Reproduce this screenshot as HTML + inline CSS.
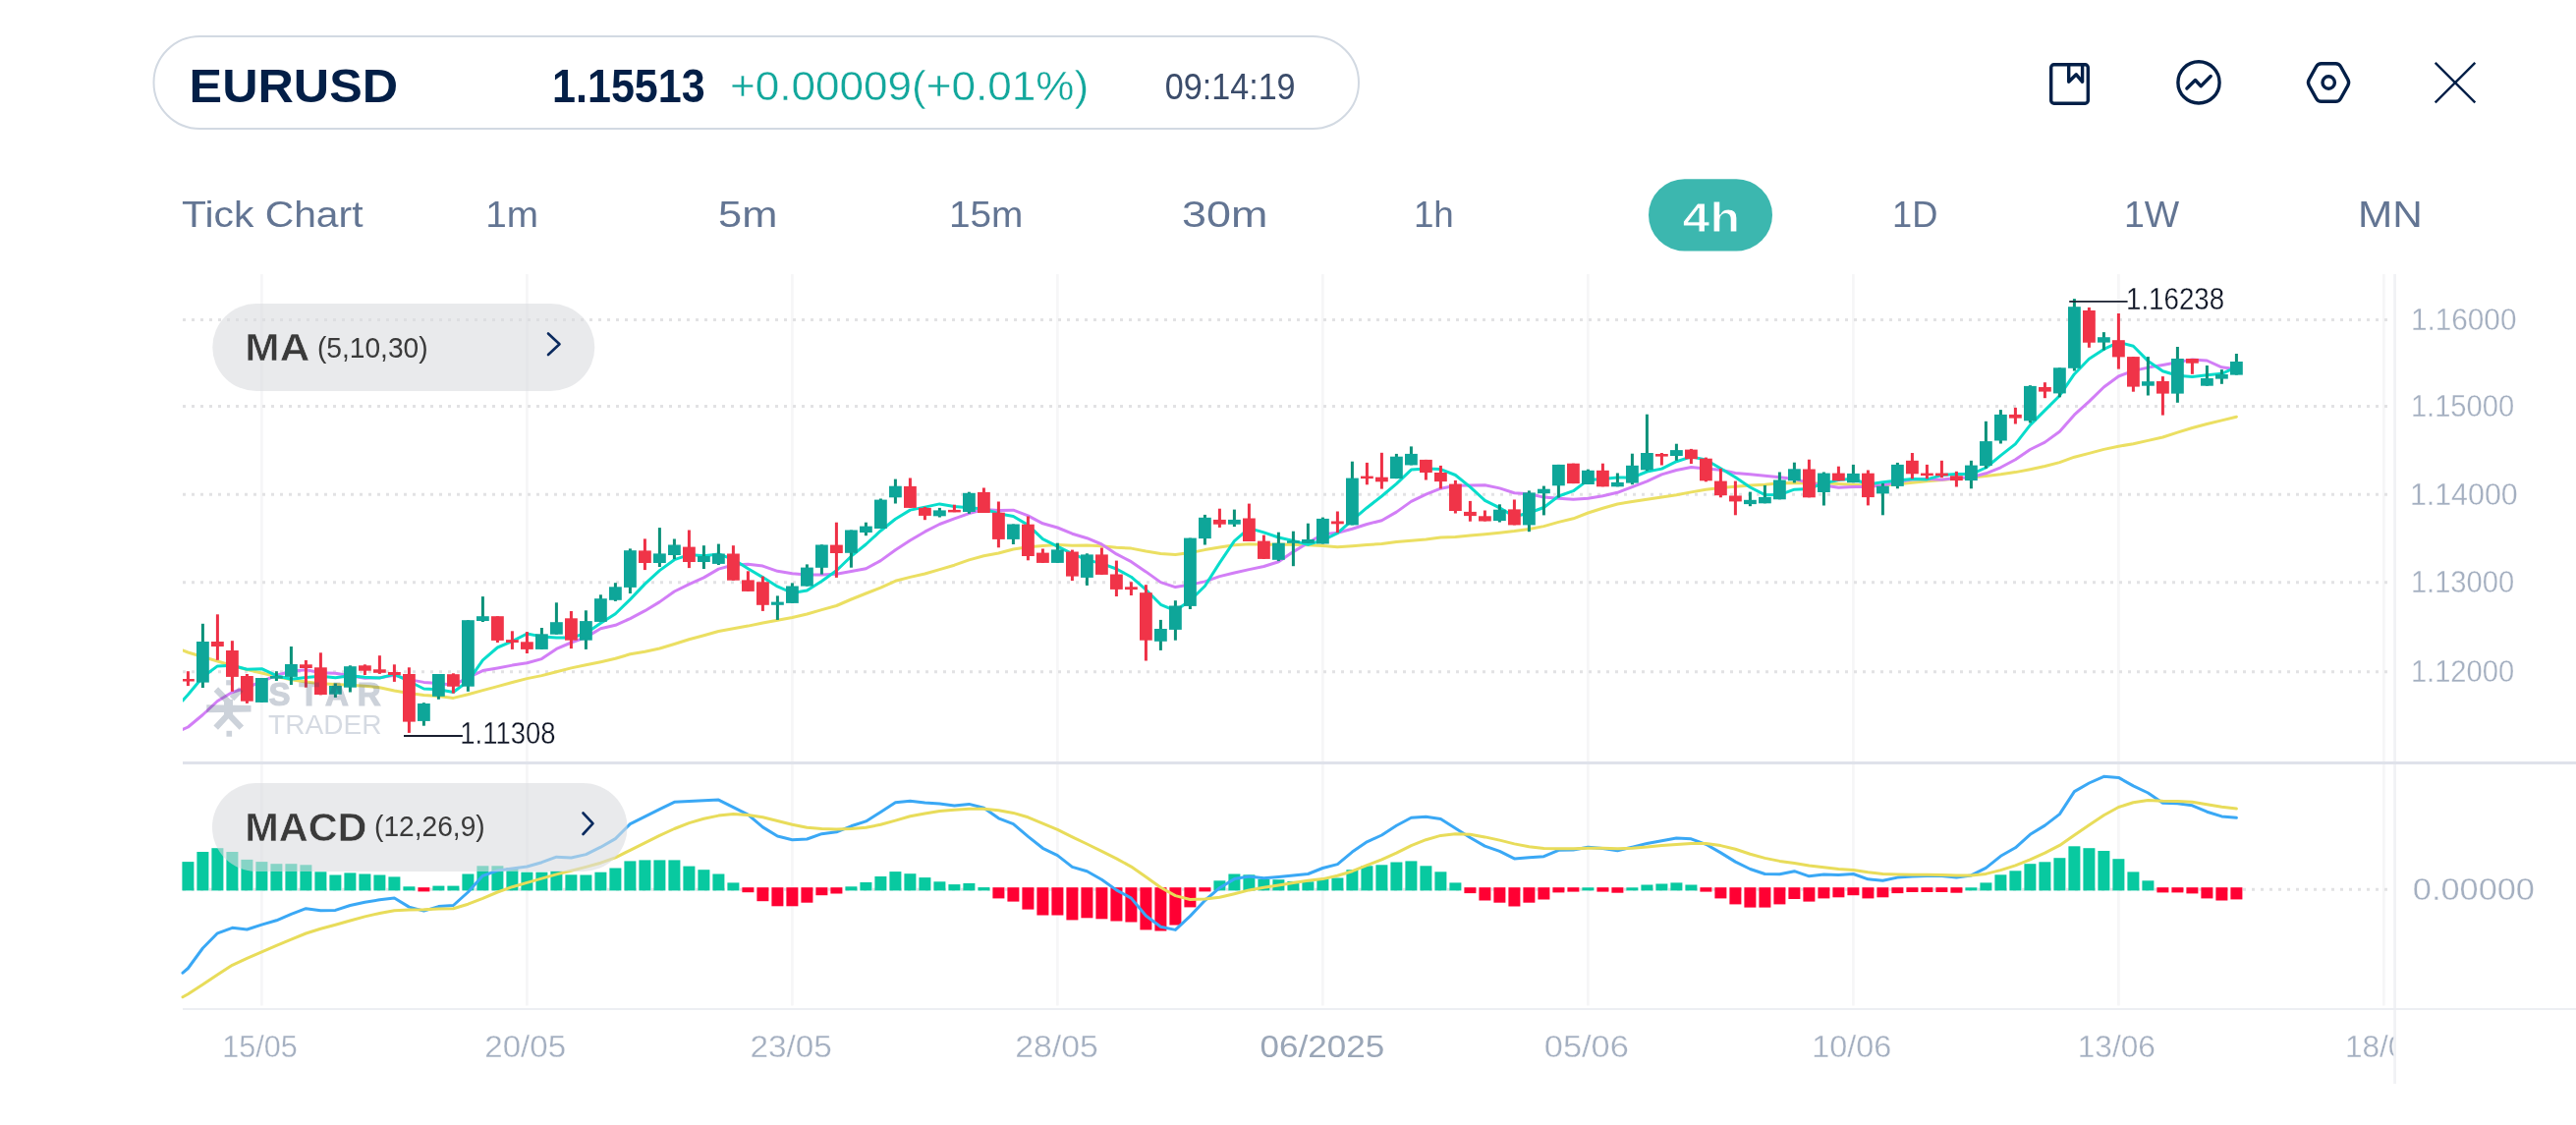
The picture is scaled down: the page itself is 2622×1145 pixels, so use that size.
<!DOCTYPE html><html><head><meta charset="utf-8"><style>html,body{margin:0;padding:0;background:#fff;width:2622px;height:1145px;overflow:hidden}svg{display:block;will-change:transform}text{font-family:"Liberation Sans",sans-serif}</style></head><body><svg width="2622" height="1145" viewBox="0 0 2622 1145"><rect x="156.5" y="37" width="1226.5" height="94" rx="47" ry="47" fill="#fff" stroke="#d2d9e2" stroke-width="2"/><g fill="none" stroke="#031f47" stroke-width="3.4" stroke-linecap="round" stroke-linejoin="round"><rect x="2087.7" y="65.7" width="37.6" height="39.6" rx="3"/><polyline points="2105.7,66.5 2105.7,83.3 2113.3,75.8 2119.6,83.3 2119.6,66.5"/><circle cx="2238" cy="83.9" r="21.1"/><polyline points="2225.9,90 2234.5,81.5 2240.1,87.7 2250.2,77.5"/><path d="M2350.30,87.06 Q2348.60,84.00 2350.30,80.94 L2357.60,67.76 Q2359.30,64.70 2362.80,64.70 L2377.30,64.70 Q2380.80,64.70 2382.50,67.76 L2389.80,80.94 Q2391.50,84.00 2389.80,87.06 L2382.50,100.24 Q2380.80,103.30 2377.30,103.30 L2362.80,103.30 Q2359.30,103.30 2357.60,100.24 Z"/><circle cx="2370.2" cy="84" r="6.2"/></g><g stroke="#031f47" stroke-width="2.4" stroke-linecap="butt"><line x1="2478.7" y1="63.8" x2="2519.3" y2="104.4"/><line x1="2519.3" y1="63.8" x2="2478.7" y2="104.4"/></g><rect x="1678" y="182.2" width="126" height="73.4" rx="36.7" fill="#3cb7af"/><rect x="265.1" y="279" width="2.6" height="744.5" fill="#f6f6f7"/><rect x="535.1" y="279" width="2.6" height="744.5" fill="#f6f6f7"/><rect x="805.1" y="279" width="2.6" height="744.5" fill="#f6f6f7"/><rect x="1075.1" y="279" width="2.6" height="744.5" fill="#f6f6f7"/><rect x="1345.1" y="279" width="2.6" height="744.5" fill="#f6f6f7"/><rect x="1615.1" y="279" width="2.6" height="744.5" fill="#f6f6f7"/><rect x="1885.1" y="279" width="2.6" height="744.5" fill="#f6f6f7"/><rect x="2155.1" y="279" width="2.6" height="744.5" fill="#f6f6f7"/><rect x="2425.1" y="279" width="2.6" height="744.5" fill="#f6f6f7"/><rect x="2436.2" y="279" width="2.8" height="824" fill="#f1f2f5"/><line x1="186" y1="325.5" x2="2431" y2="325.5" stroke="#e2e2e4" stroke-width="3" stroke-dasharray="3 6"/><line x1="186" y1="413.5" x2="2431" y2="413.5" stroke="#e2e2e4" stroke-width="3" stroke-dasharray="3 6"/><line x1="186" y1="503.3" x2="2431" y2="503.3" stroke="#e2e2e4" stroke-width="3" stroke-dasharray="3 6"/><line x1="186" y1="592.8" x2="2431" y2="592.8" stroke="#e2e2e4" stroke-width="3" stroke-dasharray="3 6"/><line x1="186" y1="683.8" x2="2431" y2="683.8" stroke="#e2e2e4" stroke-width="3" stroke-dasharray="3 6"/><line x1="186" y1="905.2" x2="2431" y2="905.2" stroke="#e2e2e4" stroke-width="3" stroke-dasharray="3 6"/><rect x="186" y="775" width="2436" height="3" fill="#dfe2ea"/><rect x="186" y="1026" width="2436" height="2" fill="#eceef2"/><rect x="185.4" y="877.1" width="12" height="29.3" fill="#08c9a0"/><rect x="200.4" y="867" width="12" height="39.4" fill="#08c9a0"/><rect x="215.4" y="863.2" width="12" height="43.2" fill="#08c9a0"/><rect x="230.4" y="867" width="12" height="39.4" fill="#08c9a0"/><rect x="245.4" y="874.9" width="12" height="31.5" fill="#08c9a0"/><rect x="260.4" y="877.1" width="12" height="29.3" fill="#08c9a0"/><rect x="275.4" y="879.2" width="12" height="27.2" fill="#08c9a0"/><rect x="290.4" y="879.2" width="12" height="27.2" fill="#08c9a0"/><rect x="305.4" y="880.3" width="12" height="26.1" fill="#08c9a0"/><rect x="320.4" y="887.3" width="12" height="19.1" fill="#08c9a0"/><rect x="335.4" y="890.5" width="12" height="15.9" fill="#08c9a0"/><rect x="350.4" y="888.4" width="12" height="18" fill="#08c9a0"/><rect x="365.4" y="889.5" width="12" height="16.9" fill="#08c9a0"/><rect x="380.4" y="890.5" width="12" height="15.9" fill="#08c9a0"/><rect x="395.4" y="892.4" width="12" height="14" fill="#08c9a0"/><rect x="410.4" y="902.3" width="12" height="4.1" fill="#08c9a0"/><rect x="425.4" y="903.2" width="12" height="4.2" fill="#ff0033"/><rect x="440.4" y="901.6" width="12" height="4.8" fill="#08c9a0"/><rect x="455.4" y="901.6" width="12" height="4.8" fill="#08c9a0"/><rect x="470.4" y="889.5" width="12" height="16.9" fill="#08c9a0"/><rect x="485.4" y="881.3" width="12" height="25.1" fill="#08c9a0"/><rect x="500.4" y="881.3" width="12" height="25.1" fill="#08c9a0"/><rect x="515.4" y="883.1" width="12" height="23.3" fill="#08c9a0"/><rect x="530.4" y="887.7" width="12" height="18.7" fill="#08c9a0"/><rect x="545.4" y="887.7" width="12" height="18.7" fill="#08c9a0"/><rect x="560.4" y="886.7" width="12" height="19.7" fill="#08c9a0"/><rect x="575.4" y="890.3" width="12" height="16.1" fill="#08c9a0"/><rect x="590.4" y="890.5" width="12" height="15.9" fill="#08c9a0"/><rect x="605.4" y="887.7" width="12" height="18.7" fill="#08c9a0"/><rect x="620.4" y="883.5" width="12" height="22.9" fill="#08c9a0"/><rect x="635.4" y="876.4" width="12" height="30" fill="#08c9a0"/><rect x="650.4" y="875.4" width="12" height="31" fill="#08c9a0"/><rect x="665.4" y="875.4" width="12" height="31" fill="#08c9a0"/><rect x="680.4" y="875.4" width="12" height="31" fill="#08c9a0"/><rect x="695.4" y="881.6" width="12" height="24.8" fill="#08c9a0"/><rect x="710.4" y="885.2" width="12" height="21.2" fill="#08c9a0"/><rect x="725.4" y="889.5" width="12" height="16.9" fill="#08c9a0"/><rect x="740.4" y="898.4" width="12" height="8" fill="#08c9a0"/><rect x="755.4" y="903.2" width="12" height="5" fill="#ff0033"/><rect x="770.4" y="903.2" width="12" height="14" fill="#ff0033"/><rect x="785.4" y="903.2" width="12" height="19.1" fill="#ff0033"/><rect x="800.4" y="903.2" width="12" height="19.1" fill="#ff0033"/><rect x="815.4" y="903.2" width="12" height="15.5" fill="#ff0033"/><rect x="830.4" y="903.2" width="12" height="8" fill="#ff0033"/><rect x="845.4" y="903.2" width="12" height="6.3" fill="#ff0033"/><rect x="860.4" y="902.3" width="12" height="4.1" fill="#08c9a0"/><rect x="875.4" y="898" width="12" height="8.4" fill="#08c9a0"/><rect x="890.4" y="892" width="12" height="14.4" fill="#08c9a0"/><rect x="905.4" y="887.1" width="12" height="19.3" fill="#08c9a0"/><rect x="920.4" y="889.2" width="12" height="17.2" fill="#08c9a0"/><rect x="935.4" y="893.1" width="12" height="13.3" fill="#08c9a0"/><rect x="950.4" y="897.3" width="12" height="9.1" fill="#08c9a0"/><rect x="965.4" y="900.1" width="12" height="6.3" fill="#08c9a0"/><rect x="980.4" y="899" width="12" height="7.4" fill="#08c9a0"/><rect x="995.4" y="903.1" width="12" height="3.3" fill="#08c9a0"/><rect x="1010.4" y="903.2" width="12" height="11.2" fill="#ff0033"/><rect x="1025.4" y="903.2" width="12" height="14.4" fill="#ff0033"/><rect x="1040.4" y="903.2" width="12" height="22.4" fill="#ff0033"/><rect x="1055.4" y="903.2" width="12" height="28.3" fill="#ff0033"/><rect x="1070.4" y="903.2" width="12" height="28.3" fill="#ff0033"/><rect x="1085.4" y="903.2" width="12" height="33.2" fill="#ff0033"/><rect x="1100.4" y="903.2" width="12" height="31.1" fill="#ff0033"/><rect x="1115.4" y="903.2" width="12" height="32.1" fill="#ff0033"/><rect x="1130.4" y="903.2" width="12" height="34.3" fill="#ff0033"/><rect x="1145.4" y="903.2" width="12" height="35.3" fill="#ff0033"/><rect x="1160.4" y="903.2" width="12" height="43.2" fill="#ff0033"/><rect x="1175.4" y="903.2" width="12" height="44.3" fill="#ff0033"/><rect x="1190.4" y="903.2" width="12" height="38.3" fill="#ff0033"/><rect x="1205.4" y="903.2" width="12" height="20.2" fill="#ff0033"/><rect x="1220.4" y="903.2" width="12" height="4.2" fill="#ff0033"/><rect x="1235.4" y="896.3" width="12" height="10.1" fill="#08c9a0"/><rect x="1250.4" y="889.5" width="12" height="16.9" fill="#08c9a0"/><rect x="1265.4" y="890.3" width="12" height="16.1" fill="#08c9a0"/><rect x="1280.4" y="894.8" width="12" height="11.6" fill="#08c9a0"/><rect x="1295.4" y="895.2" width="12" height="11.2" fill="#08c9a0"/><rect x="1310.4" y="896.9" width="12" height="9.5" fill="#08c9a0"/><rect x="1325.4" y="897.3" width="12" height="9.1" fill="#08c9a0"/><rect x="1340.4" y="894.3" width="12" height="12.1" fill="#08c9a0"/><rect x="1355.4" y="893.5" width="12" height="12.9" fill="#08c9a0"/><rect x="1370.4" y="885.2" width="12" height="21.2" fill="#08c9a0"/><rect x="1385.4" y="881.3" width="12" height="25.1" fill="#08c9a0"/><rect x="1400.4" y="880.3" width="12" height="26.1" fill="#08c9a0"/><rect x="1415.4" y="877.5" width="12" height="28.9" fill="#08c9a0"/><rect x="1430.4" y="876.4" width="12" height="30" fill="#08c9a0"/><rect x="1445.4" y="881.3" width="12" height="25.1" fill="#08c9a0"/><rect x="1460.4" y="887.3" width="12" height="19.1" fill="#08c9a0"/><rect x="1475.4" y="898.4" width="12" height="8" fill="#08c9a0"/><rect x="1490.4" y="903.2" width="12" height="5.9" fill="#ff0033"/><rect x="1505.4" y="903.2" width="12" height="13.3" fill="#ff0033"/><rect x="1520.4" y="903.2" width="12" height="15.5" fill="#ff0033"/><rect x="1535.4" y="903.2" width="12" height="19.3" fill="#ff0033"/><rect x="1550.4" y="903.2" width="12" height="15.5" fill="#ff0033"/><rect x="1565.4" y="903.2" width="12" height="12.3" fill="#ff0033"/><rect x="1580.4" y="903.2" width="12" height="5.2" fill="#ff0033"/><rect x="1595.4" y="903.2" width="12" height="4.4" fill="#ff0033"/><rect x="1610.4" y="903.3" width="12" height="3.1" fill="#08c9a0"/><rect x="1625.4" y="903.2" width="12" height="4.4" fill="#ff0033"/><rect x="1640.4" y="903.2" width="12" height="5.5" fill="#ff0033"/><rect x="1655.4" y="903.3" width="12" height="3.1" fill="#08c9a0"/><rect x="1670.4" y="900.5" width="12" height="5.9" fill="#08c9a0"/><rect x="1685.4" y="899.5" width="12" height="6.9" fill="#08c9a0"/><rect x="1700.4" y="898.4" width="12" height="8" fill="#08c9a0"/><rect x="1715.4" y="900.5" width="12" height="5.9" fill="#08c9a0"/><rect x="1730.4" y="903.2" width="12" height="4.4" fill="#ff0033"/><rect x="1745.4" y="903.2" width="12" height="11.2" fill="#ff0033"/><rect x="1760.4" y="903.2" width="12" height="17.2" fill="#ff0033"/><rect x="1775.4" y="903.2" width="12" height="20.4" fill="#ff0033"/><rect x="1790.4" y="903.2" width="12" height="20.4" fill="#ff0033"/><rect x="1805.4" y="903.2" width="12" height="17.2" fill="#ff0033"/><rect x="1820.4" y="903.2" width="12" height="11.8" fill="#ff0033"/><rect x="1835.4" y="903.2" width="12" height="14.4" fill="#ff0033"/><rect x="1850.4" y="903.2" width="12" height="11.2" fill="#ff0033"/><rect x="1865.4" y="903.2" width="12" height="10.1" fill="#ff0033"/><rect x="1880.4" y="903.2" width="12" height="8" fill="#ff0033"/><rect x="1895.4" y="903.2" width="12" height="11.2" fill="#ff0033"/><rect x="1910.4" y="903.2" width="12" height="10.1" fill="#ff0033"/><rect x="1925.4" y="903.2" width="12" height="5.9" fill="#ff0033"/><rect x="1940.4" y="903.2" width="12" height="4.8" fill="#ff0033"/><rect x="1955.4" y="903.2" width="12" height="4.8" fill="#ff0033"/><rect x="1970.4" y="903.2" width="12" height="4.8" fill="#ff0033"/><rect x="1985.4" y="903.2" width="12" height="5.5" fill="#ff0033"/><rect x="2000.4" y="903.3" width="12" height="3.1" fill="#08c9a0"/><rect x="2015.4" y="898.4" width="12" height="8" fill="#08c9a0"/><rect x="2030.4" y="890.3" width="12" height="16.1" fill="#08c9a0"/><rect x="2045.4" y="886.3" width="12" height="20.1" fill="#08c9a0"/><rect x="2060.4" y="879.2" width="12" height="27.2" fill="#08c9a0"/><rect x="2075.4" y="877.3" width="12" height="29.1" fill="#08c9a0"/><rect x="2090.4" y="873.2" width="12" height="33.2" fill="#08c9a0"/><rect x="2105.4" y="861.3" width="12" height="45.1" fill="#08c9a0"/><rect x="2120.4" y="863.2" width="12" height="43.2" fill="#08c9a0"/><rect x="2135.4" y="866" width="12" height="40.4" fill="#08c9a0"/><rect x="2150.4" y="874.2" width="12" height="32.2" fill="#08c9a0"/><rect x="2165.4" y="887.4" width="12" height="19" fill="#08c9a0"/><rect x="2180.4" y="896.3" width="12" height="10.1" fill="#08c9a0"/><rect x="2195.4" y="903.2" width="12" height="5.2" fill="#ff0033"/><rect x="2210.4" y="903.2" width="12" height="5.2" fill="#ff0033"/><rect x="2225.4" y="903.2" width="12" height="6.2" fill="#ff0033"/><rect x="2240.4" y="903.2" width="12" height="11.2" fill="#ff0033"/><rect x="2255.4" y="903.2" width="12" height="13.3" fill="#ff0033"/><rect x="2270.4" y="903.2" width="12" height="12.2" fill="#ff0033"/><polyline points="186,990.2 191.4,985.5 206.4,965 221.4,949.8 236.4,944.3 251.4,946 266.4,941.1 281.4,936.8 296.4,930.4 311.4,924.7 326.4,926.8 341.4,926.4 356.4,921.5 371.4,918.2 386.4,915.8 401.4,914 416.4,923.1 431.4,927.1 446.4,922.6 461.4,921.5 476.4,908 491.4,891.3 506.4,886 521.4,883.9 536.4,882 551.4,877.7 566.4,872.2 581.4,873 596.4,869.6 611.4,862.2 626.4,853.6 641.4,838.6 656.4,831.2 671.4,823.7 686.4,816.3 701.4,815.6 716.4,814.8 731.4,814.1 746.4,821.7 761.4,829.1 776.4,841.9 791.4,851 806.4,854.7 821.4,854 836.4,848.7 851.4,846.8 866.4,840.8 881.4,835.9 896.4,826.4 911.4,816.8 926.4,815.2 941.4,816.9 956.4,818 971.4,820.1 986.4,818.4 1001.4,822.2 1016.4,832.8 1031.4,838.7 1046.4,851.4 1061.4,863.3 1076.4,870.6 1091.4,882.4 1106.4,886.7 1121.4,895.2 1136.4,905.9 1151.4,914.1 1166.4,932 1181.4,943.2 1196.4,946.4 1211.4,932.4 1226.4,916.5 1241.4,903.7 1256.4,894.6 1271.4,892 1286.4,893.7 1301.4,892.4 1316.4,891 1331.4,889.5 1346.4,883.5 1361.4,879.6 1376.4,867.1 1391.4,856.8 1406.4,850 1421.4,840.3 1436.4,832.3 1451.4,831.2 1466.4,833.4 1481.4,842.9 1496.4,852.5 1511.4,861.1 1526.4,866.4 1541.4,873.9 1556.4,872.8 1571.4,871.7 1586.4,865.3 1601.4,864.9 1616.4,862.2 1631.4,863.6 1646.4,865.8 1661.4,862.1 1676.4,858.5 1691.4,855.7 1706.4,853 1721.4,853.8 1736.4,859.3 1751.4,867.9 1766.4,877.1 1781.4,884.5 1796.4,889.5 1811.4,889.7 1826.4,886.7 1841.4,891.8 1856.4,890.1 1871.4,890.5 1886.4,889.5 1901.4,894.8 1916.4,896.3 1931.4,893.1 1946.4,892 1961.4,891.4 1976.4,891.4 1991.4,893.1 2006.4,890.9 2021.4,883.4 2036.4,871.3 2051.4,862.8 2066.4,849.3 2081.4,840.1 2096.4,828.6 2111.4,805.6 2126.4,797 2141.4,790.3 2156.4,791.4 2171.4,799.9 2186.4,807 2201.4,817.3 2216.4,817.7 2231.4,819.8 2246.4,826.2 2261.4,830.9 2276.4,832.3" fill="none" stroke="#3aa8f5" stroke-width="3" stroke-linejoin="round" stroke-linecap="round"/><polyline points="186,1014.7 191.4,1011.7 206.4,1002.1 221.4,992 236.4,982.3 251.4,975.3 266.4,968.8 281.4,962.4 296.4,956.2 311.4,950 326.4,945.3 341.4,941.3 356.4,937 371.4,932.9 386.4,929.5 401.4,926.7 416.4,925.9 431.4,925.7 446.4,925.1 461.4,924.7 476.4,920.2 491.4,914.4 506.4,908 521.4,902.7 536.4,898.4 551.4,894.1 566.4,889.9 581.4,886.3 596.4,882.4 611.4,878.2 626.4,872.8 641.4,865.3 656.4,857.8 671.4,850.4 686.4,843.5 701.4,837.6 716.4,833.3 731.4,830.1 746.4,828.6 761.4,829.5 776.4,831.8 791.4,835.5 806.4,839.3 821.4,842.3 836.4,843.6 851.4,844 866.4,843.6 881.4,842.3 896.4,839.3 911.4,835.1 926.4,830.8 941.4,828 956.4,825.5 971.4,824.2 986.4,823.3 1001.4,823.3 1016.4,824.8 1031.4,827.4 1046.4,831.8 1061.4,838.1 1076.4,844.4 1091.4,851.9 1106.4,859 1121.4,866.4 1136.4,873.9 1151.4,882.1 1166.4,892.5 1181.4,903.3 1196.4,911.6 1211.4,915.5 1226.4,915.1 1241.4,913.3 1256.4,909.7 1271.4,905.9 1286.4,903.3 1301.4,901 1316.4,898.6 1331.4,896.3 1346.4,894.6 1361.4,891.3 1376.4,886.7 1391.4,880.7 1406.4,874.9 1421.4,868.1 1436.4,860.6 1451.4,854.7 1466.4,850.4 1481.4,848.7 1496.4,849.3 1511.4,851.9 1526.4,855.1 1541.4,858.9 1556.4,861.7 1571.4,863.6 1586.4,863.8 1601.4,863.8 1616.4,863.2 1631.4,863.2 1646.4,863.8 1661.4,863.2 1676.4,862.1 1691.4,860.6 1706.4,859.4 1721.4,858.5 1736.4,858.5 1751.4,860.6 1766.4,864.3 1781.4,869.2 1796.4,873.4 1811.4,876.4 1826.4,878.6 1841.4,880.9 1856.4,882.8 1871.4,884.5 1886.4,885.6 1901.4,887.7 1916.4,889.4 1931.4,889.9 1946.4,890.3 1961.4,890.3 1976.4,890.5 1991.4,890.9 2006.4,890.9 2021.4,889.4 2036.4,885.6 2051.4,880.9 2066.4,874.9 2081.4,868.1 2096.4,860.4 2111.4,850 2126.4,839.7 2141.4,829.8 2156.4,821.5 2171.4,816.7 2186.4,814.6 2201.4,815.3 2216.4,815.6 2231.4,816.3 2246.4,818.7 2261.4,821.2 2276.4,823.1" fill="none" stroke="#e8dc5a" stroke-width="3" stroke-linejoin="round" stroke-linecap="round"/><defs><clipPath id="pc"><rect x="186" y="279" width="2250" height="495"/></clipPath></defs><g clip-path="url(#pc)"><polyline points="186,662 191.4,664 206.4,668.5 221.4,673 236.4,677.5 251.4,681.5 266.4,685 281.4,688.5 296.4,691.8 311.4,694 326.4,695.8 341.4,696.4 356.4,697.2 371.4,698.3 386.4,699.8 401.4,703 416.4,705.6 431.4,707.4 446.4,708.5 461.4,710.4 476.4,706.8 491.4,702.6 506.4,698.6 521.4,694.5 536.4,690.6 551.4,687.6 566.4,683.7 581.4,679.9 596.4,676.8 611.4,673.7 626.4,670.3 641.4,665.8 656.4,663.2 671.4,660 686.4,655.5 701.4,650.8 716.4,646.7 731.4,642.5 746.4,639.7 761.4,637.1 776.4,634 791.4,631.2 806.4,628.5 821.4,625 836.4,620.6 851.4,616.5 866.4,610 881.4,604 896.4,598.1 911.4,591.3 926.4,587.4 941.4,584 956.4,579.6 971.4,575.2 986.4,569.9 1001.4,565.8 1016.4,563 1031.4,559 1046.4,556.8 1061.4,555.6 1076.4,554.4 1091.4,555.2 1106.4,554.9 1121.4,555.7 1136.4,557.2 1151.4,558.1 1166.4,561 1181.4,563.5 1196.4,564.4 1211.4,562.6 1226.4,559.6 1241.4,557 1256.4,554.7 1271.4,553.8 1286.4,554.3 1301.4,554 1316.4,554.3 1331.4,554.8 1346.4,555.4 1361.4,556.7 1376.4,555.7 1391.4,554.4 1406.4,553.5 1421.4,551.6 1436.4,550.2 1451.4,548.9 1466.4,546.9 1481.4,546.5 1496.4,545.1 1511.4,543.7 1526.4,542.3 1541.4,540.6 1556.4,538.5 1571.4,535.6 1586.4,531.4 1601.4,527.8 1616.4,522 1631.4,517.2 1646.4,513 1661.4,510.5 1676.4,508.3 1691.4,506 1706.4,503.7 1721.4,500.9 1736.4,498.2 1751.4,496.6 1766.4,495.3 1781.4,493.9 1796.4,493.2 1811.4,491.7 1826.4,491.4 1841.4,492 1856.4,491.8 1871.4,492.6 1886.4,493.2 1901.4,494.1 1916.4,494.2 1931.4,492.7 1946.4,491.2 1961.4,489.7 1976.4,488.5 1991.4,487 2006.4,486.1 2021.4,484.5 2036.4,482.8 2051.4,480.6 2066.4,477.7 2081.4,474.5 2096.4,470.6 2111.4,465.2 2126.4,461.4 2141.4,457.4 2156.4,454.2 2171.4,451.8 2186.4,448.4 2201.4,445 2216.4,440.1 2231.4,435.5 2246.4,431.5 2261.4,427.9 2276.4,424.2" fill="none" stroke="#ebdf62" stroke-width="3" stroke-linejoin="round" stroke-linecap="round"/><polyline points="186,742.5 191.4,740 206.4,727.5 221.4,713.5 236.4,704.5 251.4,699.9 266.4,693.5 281.4,687.3 296.4,683.3 311.4,681.8 326.4,684.8 341.4,685.3 356.4,687.8 371.4,690.2 386.4,689.8 401.4,687.2 416.4,691.6 431.4,694.4 446.4,695.4 461.4,697.3 476.4,689.7 491.4,682.6 506.4,680 521.4,677.1 536.4,674.8 551.4,670.6 566.4,660.4 581.4,654 596.4,648.6 611.4,639.7 626.4,636.3 641.4,629.6 656.4,621.7 671.4,612.6 686.4,602 701.4,594.7 716.4,587.9 731.4,579.1 746.4,575 761.4,574.2 776.4,576.1 791.4,581.3 806.4,583.7 821.4,585.1 836.4,585.1 851.4,584.2 866.4,581.6 881.4,578.8 896.4,570.6 911.4,559.8 926.4,550 941.4,541.2 956.4,533.5 971.4,527.8 986.4,522.6 1001.4,518.5 1016.4,519.4 1031.4,519.2 1046.4,524.9 1061.4,532.8 1076.4,537 1091.4,543.2 1106.4,547.7 1121.4,554 1136.4,563.9 1151.4,571.7 1166.4,581.9 1181.4,592.6 1196.4,597.6 1211.4,595.1 1226.4,591.9 1241.4,586.6 1256.4,583 1271.4,579.6 1286.4,576.5 1301.4,571.8 1316.4,561.6 1331.4,552.5 1346.4,543.7 1361.4,542.2 1376.4,538.2 1391.4,533.5 1406.4,529.7 1421.4,521.1 1436.4,510.4 1451.4,503.2 1466.4,497.2 1481.4,494.3 1496.4,494 1511.4,493.7 1526.4,496.9 1541.4,501.7 1556.4,502.8 1571.4,506.1 1586.4,507.2 1601.4,508.3 1616.4,507.2 1631.4,504.7 1646.4,501.3 1661.4,495.6 1676.4,489.8 1691.4,482.9 1706.4,478.5 1721.4,475.5 1736.4,477.1 1751.4,478.3 1766.4,481.5 1781.4,482.8 1796.4,484.3 1811.4,485.8 1826.4,487.4 1841.4,491.6 1856.4,493.9 1871.4,496.2 1886.4,495.4 1901.4,495.6 1916.4,494 1931.4,490.4 1946.4,488.1 1961.4,487.6 1976.4,488.3 1991.4,486.6 2006.4,485.8 2021.4,481.8 2036.4,475.8 2051.4,467.7 2066.4,457.5 2081.4,450.1 2096.4,439.3 2111.4,422.2 2126.4,408.6 2141.4,394 2156.4,383 2171.4,377.4 2186.4,374.1 2201.4,371.6 2216.4,368.8 2231.4,365.9 2246.4,367 2261.4,373.8 2276.4,375.8" fill="none" stroke="#d27ef6" stroke-width="3" stroke-linejoin="round" stroke-linecap="round"/><polyline points="186,713 191.4,707 206.4,689 221.4,677.9 236.4,677.2 251.4,681.3 266.4,680.7 281.4,687.7 296.4,691.3 311.4,689.5 326.4,688.2 341.4,689.8 356.4,687.8 371.4,689.2 386.4,690.1 401.4,686.1 416.4,693.5 431.4,701 446.4,701.7 461.4,704.5 476.4,693.3 491.4,671.8 506.4,659 521.4,652.6 536.4,645 551.4,647.9 566.4,649.1 581.4,649 596.4,644.6 611.4,634.3 626.4,624.7 641.4,610.1 656.4,594.4 671.4,580.6 686.4,569.7 701.4,564.6 716.4,565.8 731.4,563.9 746.4,569.3 761.4,578.8 776.4,587.6 791.4,596.9 806.4,603.5 821.4,600.9 836.4,591.4 851.4,580.8 866.4,566.2 881.4,554 896.4,540.2 911.4,528.3 926.4,519.1 941.4,516.1 956.4,512.9 971.4,515.4 986.4,516.8 1001.4,517.9 1016.4,522.7 1031.4,525.5 1046.4,534.4 1061.4,548.7 1076.4,556.1 1091.4,563.7 1106.4,569.9 1121.4,573.6 1136.4,579 1151.4,587.2 1166.4,600.2 1181.4,615.3 1196.4,621.6 1211.4,611.2 1226.4,596.5 1241.4,572.9 1256.4,550.7 1271.4,537.6 1286.4,541.9 1301.4,547 1316.4,550.4 1331.4,554.4 1346.4,549.8 1361.4,542.6 1376.4,529.4 1391.4,516.7 1406.4,505 1421.4,492.4 1436.4,478.1 1451.4,477 1466.4,477.6 1481.4,483.5 1496.4,495.6 1511.4,509.3 1526.4,516.9 1541.4,525.7 1556.4,522 1571.4,516.5 1586.4,505 1601.4,499.7 1616.4,488.6 1631.4,487.4 1646.4,486 1661.4,486.2 1676.4,480 1691.4,477.1 1706.4,469.7 1721.4,464.9 1736.4,468 1751.4,476.7 1766.4,485.8 1781.4,496 1796.4,503.7 1811.4,503.6 1826.4,498.2 1841.4,497.4 1856.4,491.9 1871.4,488.6 1886.4,487.3 1901.4,493 1916.4,490.7 1931.4,489 1946.4,487.6 1961.4,487.9 1976.4,483.6 1991.4,482.5 2006.4,482.6 2021.4,476 2036.4,463.6 2051.4,451.9 2066.4,432.6 2081.4,417.6 2096.4,402.7 2111.4,380.7 2126.4,365.3 2141.4,355.4 2156.4,348.4 2171.4,352.2 2186.4,367.4 2201.4,377.8 2216.4,382.2 2231.4,383.4 2246.4,381.7 2261.4,380.3 2276.4,373.7" fill="none" stroke="#08dccb" stroke-width="3" stroke-linejoin="round" stroke-linecap="round"/><rect x="189.9" y="683.2" width="3" height="14.9" fill="#ee2f45"/><rect x="185" y="691" width="12.8" height="2.5" fill="#f03448"/><rect x="204.9" y="634.8" width="3" height="65.2" fill="#0b9179"/><rect x="200" y="653" width="12.8" height="41.6" fill="#0ea699"/><rect x="219.9" y="625.3" width="3" height="46.5" fill="#ee2f45"/><rect x="215" y="653" width="12.8" height="5" fill="#f03448"/><rect x="234.9" y="652.2" width="3" height="51.6" fill="#ee2f45"/><rect x="230" y="662" width="12.8" height="26.9" fill="#f03448"/><rect x="249.9" y="686" width="3" height="29.9" fill="#ee2f45"/><rect x="245" y="688" width="12.8" height="25.7" fill="#f03448"/><rect x="264.9" y="690" width="3" height="24.9" fill="#0b9179"/><rect x="260" y="690" width="12.8" height="24.9" fill="#0ea699"/><rect x="279.9" y="683.2" width="3" height="9.8" fill="#0b9179"/><rect x="275" y="688" width="12.8" height="2.7" fill="#0ea699"/><rect x="294.9" y="658" width="3" height="39" fill="#0b9179"/><rect x="290" y="676" width="12.8" height="12.9" fill="#0ea699"/><rect x="309.9" y="672" width="3" height="27.7" fill="#ee2f45"/><rect x="305" y="676.3" width="12.8" height="3.7" fill="#f03448"/><rect x="324.9" y="664.3" width="3" height="43.1" fill="#ee2f45"/><rect x="320" y="679.3" width="12.8" height="27.7" fill="#f03448"/><rect x="339.9" y="695.5" width="3" height="14.4" fill="#0b9179"/><rect x="335" y="698" width="12.8" height="8.7" fill="#0ea699"/><rect x="354.9" y="677.3" width="3" height="27.2" fill="#0b9179"/><rect x="350" y="678.2" width="12.8" height="21.5" fill="#0ea699"/><rect x="369.9" y="676.3" width="3" height="10.7" fill="#ee2f45"/><rect x="365" y="677.3" width="12.8" height="5.4" fill="#f03448"/><rect x="384.9" y="667.2" width="3" height="18.7" fill="#ee2f45"/><rect x="380" y="681.3" width="12.8" height="3.5" fill="#f03448"/><rect x="399.9" y="676.3" width="3" height="17.6" fill="#ee2f45"/><rect x="395" y="684" width="12.8" height="3" fill="#f03448"/><rect x="414.9" y="679.3" width="3" height="66.6" fill="#ee2f45"/><rect x="410" y="686" width="12.8" height="48.6" fill="#f03448"/><rect x="429.9" y="715.2" width="3" height="23.5" fill="#0b9179"/><rect x="425" y="716" width="12.8" height="17.9" fill="#0ea699"/><rect x="444.9" y="686" width="3" height="25.8" fill="#0b9179"/><rect x="440" y="686" width="12.8" height="22.8" fill="#0ea699"/><rect x="459.9" y="685.3" width="3" height="20.3" fill="#ee2f45"/><rect x="455" y="686.2" width="12.8" height="12.5" fill="#f03448"/><rect x="474.9" y="631.2" width="3" height="72.6" fill="#0b9179"/><rect x="470" y="631.2" width="12.8" height="67.5" fill="#0ea699"/><rect x="489.9" y="607.1" width="3" height="25.9" fill="#0b9179"/><rect x="485" y="627.2" width="12.8" height="4.8" fill="#0ea699"/><rect x="504.9" y="627.2" width="3" height="26.8" fill="#ee2f45"/><rect x="500" y="627.2" width="12.8" height="24.7" fill="#f03448"/><rect x="519.9" y="642.3" width="3" height="18.6" fill="#ee2f45"/><rect x="515" y="651.1" width="12.8" height="2.9" fill="#f03448"/><rect x="534.9" y="643.1" width="3" height="21.9" fill="#ee2f45"/><rect x="530" y="653.3" width="12.8" height="7.6" fill="#f03448"/><rect x="549.9" y="639" width="3" height="21.9" fill="#0b9179"/><rect x="545" y="645.3" width="12.8" height="15.6" fill="#0ea699"/><rect x="564.9" y="613.3" width="3" height="32.4" fill="#0b9179"/><rect x="560" y="633.2" width="12.8" height="12.5" fill="#0ea699"/><rect x="579.9" y="622" width="3" height="38.1" fill="#ee2f45"/><rect x="575" y="629.3" width="12.8" height="22.4" fill="#f03448"/><rect x="594.9" y="621.3" width="3" height="39.6" fill="#0b9179"/><rect x="590" y="632.1" width="12.8" height="19.6" fill="#0ea699"/><rect x="609.9" y="605.3" width="3" height="27.6" fill="#0b9179"/><rect x="605" y="609.2" width="12.8" height="23.7" fill="#0ea699"/><rect x="624.9" y="593.2" width="3" height="18.7" fill="#0b9179"/><rect x="620" y="597.3" width="12.8" height="13.5" fill="#0ea699"/><rect x="639.9" y="558.4" width="3" height="45.6" fill="#0b9179"/><rect x="635" y="560.2" width="12.8" height="37.7" fill="#0ea699"/><rect x="654.9" y="548.4" width="3" height="31.7" fill="#ee2f45"/><rect x="650" y="560.4" width="12.8" height="12.6" fill="#f03448"/><rect x="669.9" y="537.1" width="3" height="39.9" fill="#0b9179"/><rect x="665" y="563.4" width="12.8" height="9.6" fill="#0ea699"/><rect x="684.9" y="548.5" width="3" height="20.6" fill="#0b9179"/><rect x="680" y="554.5" width="12.8" height="10.5" fill="#0ea699"/><rect x="699.9" y="539.5" width="3" height="38.6" fill="#ee2f45"/><rect x="695" y="556.6" width="12.8" height="15.4" fill="#f03448"/><rect x="714.9" y="555.2" width="3" height="23.8" fill="#0b9179"/><rect x="710" y="566" width="12.8" height="6" fill="#0ea699"/><rect x="729.9" y="553.6" width="3" height="21.4" fill="#0b9179"/><rect x="725" y="563.5" width="12.8" height="10.4" fill="#0ea699"/><rect x="744.9" y="555.2" width="3" height="35.5" fill="#ee2f45"/><rect x="740" y="563.5" width="12.8" height="27.2" fill="#f03448"/><rect x="759.9" y="581.3" width="3" height="20.6" fill="#ee2f45"/><rect x="755" y="590.4" width="12.8" height="11.5" fill="#f03448"/><rect x="774.9" y="586.7" width="3" height="35.2" fill="#ee2f45"/><rect x="770" y="592.3" width="12.8" height="23.5" fill="#f03448"/><rect x="789.9" y="606.4" width="3" height="24.5" fill="#0b9179"/><rect x="785" y="612.6" width="12.8" height="3.2" fill="#0ea699"/><rect x="804.9" y="593.4" width="3" height="20.5" fill="#0b9179"/><rect x="800" y="596.5" width="12.8" height="17.4" fill="#0ea699"/><rect x="819.9" y="574.4" width="3" height="22.2" fill="#0b9179"/><rect x="815" y="577.6" width="12.8" height="19" fill="#0ea699"/><rect x="834.9" y="554.3" width="3" height="30.3" fill="#0b9179"/><rect x="830" y="554.5" width="12.8" height="23.3" fill="#0ea699"/><rect x="849.9" y="531.7" width="3" height="56.2" fill="#ee2f45"/><rect x="845" y="554.6" width="12.8" height="8.4" fill="#f03448"/><rect x="864.9" y="539.5" width="3" height="38.2" fill="#0b9179"/><rect x="860" y="539.5" width="12.8" height="23.3" fill="#0ea699"/><rect x="879.9" y="531.7" width="3" height="13.5" fill="#0b9179"/><rect x="875" y="535.6" width="12.8" height="6.4" fill="#0ea699"/><rect x="894.9" y="507.5" width="3" height="30.5" fill="#0b9179"/><rect x="890" y="508.6" width="12.8" height="29.4" fill="#0ea699"/><rect x="909.9" y="487.6" width="3" height="24.9" fill="#0b9179"/><rect x="905" y="494.7" width="12.8" height="11.6" fill="#0ea699"/><rect x="924.9" y="486.5" width="3" height="30.4" fill="#ee2f45"/><rect x="920" y="494.9" width="12.8" height="22" fill="#f03448"/><rect x="939.9" y="515.9" width="3" height="13.3" fill="#ee2f45"/><rect x="935" y="516.9" width="12.8" height="8" fill="#f03448"/><rect x="954.9" y="516.9" width="3" height="9.6" fill="#0b9179"/><rect x="950" y="519.4" width="12.8" height="5.9" fill="#0ea699"/><rect x="969.9" y="513.7" width="3" height="7.5" fill="#ee2f45"/><rect x="965" y="518.9" width="12.8" height="2.5" fill="#f03448"/><rect x="984.9" y="500.7" width="3" height="22.1" fill="#0b9179"/><rect x="980" y="501.8" width="12.8" height="19.2" fill="#0ea699"/><rect x="999.9" y="496.5" width="3" height="25.5" fill="#ee2f45"/><rect x="995" y="500.9" width="12.8" height="21.1" fill="#f03448"/><rect x="1014.9" y="510.5" width="3" height="46.8" fill="#ee2f45"/><rect x="1010" y="521.7" width="12.8" height="27.2" fill="#f03448"/><rect x="1029.9" y="533.5" width="3" height="20.5" fill="#0b9179"/><rect x="1025" y="533.5" width="12.8" height="15.4" fill="#0ea699"/><rect x="1044.9" y="525.5" width="3" height="44.8" fill="#ee2f45"/><rect x="1040" y="533.7" width="12.8" height="32.3" fill="#f03448"/><rect x="1059.9" y="558.5" width="3" height="14.4" fill="#ee2f45"/><rect x="1055" y="562.6" width="12.8" height="10.3" fill="#f03448"/><rect x="1074.9" y="552.7" width="3" height="20.2" fill="#0b9179"/><rect x="1070" y="559.4" width="12.8" height="13.5" fill="#0ea699"/><rect x="1089.9" y="559.6" width="3" height="31.5" fill="#ee2f45"/><rect x="1085" y="561.5" width="12.8" height="25.1" fill="#f03448"/><rect x="1104.9" y="563.3" width="3" height="32.6" fill="#0b9179"/><rect x="1100" y="564.4" width="12.8" height="23.5" fill="#0ea699"/><rect x="1119.9" y="557.5" width="3" height="27.4" fill="#ee2f45"/><rect x="1115" y="564.4" width="12.8" height="20.5" fill="#f03448"/><rect x="1134.9" y="570.6" width="3" height="36.4" fill="#ee2f45"/><rect x="1130" y="584.5" width="12.8" height="15.4" fill="#f03448"/><rect x="1149.9" y="592.3" width="3" height="13.7" fill="#ee2f45"/><rect x="1145" y="597.3" width="12.8" height="2.8" fill="#f03448"/><rect x="1164.9" y="595.2" width="3" height="77.3" fill="#ee2f45"/><rect x="1160" y="603.2" width="12.8" height="48.5" fill="#f03448"/><rect x="1179.9" y="630.9" width="3" height="31" fill="#0b9179"/><rect x="1175" y="640" width="12.8" height="12.8" fill="#0ea699"/><rect x="1194.9" y="611.2" width="3" height="40.5" fill="#0b9179"/><rect x="1190" y="616.5" width="12.8" height="24.4" fill="#0ea699"/><rect x="1209.9" y="547.6" width="3" height="72.4" fill="#0b9179"/><rect x="1205" y="547.6" width="12.8" height="69.3" fill="#0ea699"/><rect x="1224.9" y="523.9" width="3" height="30.6" fill="#0b9179"/><rect x="1220" y="526.8" width="12.8" height="21.3" fill="#0ea699"/><rect x="1239.9" y="517.7" width="3" height="19.2" fill="#ee2f45"/><rect x="1235" y="528.9" width="12.8" height="4.8" fill="#f03448"/><rect x="1254.9" y="518.6" width="3" height="17.5" fill="#0b9179"/><rect x="1250" y="528.9" width="12.8" height="4.8" fill="#0ea699"/><rect x="1269.9" y="512.6" width="3" height="38.4" fill="#ee2f45"/><rect x="1265" y="527.5" width="12.8" height="23.5" fill="#f03448"/><rect x="1284.9" y="544.6" width="3" height="24.3" fill="#ee2f45"/><rect x="1280" y="550.6" width="12.8" height="18.3" fill="#f03448"/><rect x="1299.9" y="541.7" width="3" height="29.4" fill="#0b9179"/><rect x="1295" y="552.7" width="12.8" height="17.1" fill="#0ea699"/><rect x="1314.9" y="540.7" width="3" height="35.5" fill="#0b9179"/><rect x="1310" y="550.3" width="12.8" height="2.5" fill="#0ea699"/><rect x="1329.9" y="532.7" width="3" height="20.2" fill="#0b9179"/><rect x="1325" y="549" width="12.8" height="3.9" fill="#0ea699"/><rect x="1344.9" y="526.6" width="3" height="26.9" fill="#0b9179"/><rect x="1340" y="527.9" width="12.8" height="25.6" fill="#0ea699"/><rect x="1359.9" y="520.5" width="3" height="21.7" fill="#ee2f45"/><rect x="1355" y="530.5" width="12.8" height="2.8" fill="#f03448"/><rect x="1374.9" y="469.7" width="3" height="64.7" fill="#0b9179"/><rect x="1370" y="486.6" width="12.8" height="47.8" fill="#0ea699"/><rect x="1389.9" y="470.9" width="3" height="22.4" fill="#ee2f45"/><rect x="1385" y="484.6" width="12.8" height="2.5" fill="#f03448"/><rect x="1404.9" y="460.8" width="3" height="36.8" fill="#ee2f45"/><rect x="1400" y="485.7" width="12.8" height="4.6" fill="#f03448"/><rect x="1419.9" y="461.9" width="3" height="25.2" fill="#0b9179"/><rect x="1415" y="464.7" width="12.8" height="22.4" fill="#0ea699"/><rect x="1434.9" y="454.4" width="3" height="19" fill="#0b9179"/><rect x="1430" y="461.9" width="12.8" height="11.5" fill="#0ea699"/><rect x="1449.9" y="467.9" width="3" height="20.6" fill="#ee2f45"/><rect x="1445" y="467.9" width="12.8" height="13.1" fill="#f03448"/><rect x="1464.9" y="473.9" width="3" height="23.5" fill="#ee2f45"/><rect x="1460" y="481" width="12.8" height="9.1" fill="#f03448"/><rect x="1479.9" y="488.9" width="3" height="33.6" fill="#ee2f45"/><rect x="1475" y="492.6" width="12.8" height="27.4" fill="#f03448"/><rect x="1494.9" y="509.9" width="3" height="20.8" fill="#ee2f45"/><rect x="1490" y="520.9" width="12.8" height="4.2" fill="#f03448"/><rect x="1509.9" y="519.5" width="3" height="11" fill="#ee2f45"/><rect x="1505" y="525.3" width="12.8" height="5.2" fill="#f03448"/><rect x="1524.9" y="513.3" width="3" height="18.2" fill="#0b9179"/><rect x="1520" y="518.7" width="12.8" height="11.4" fill="#0ea699"/><rect x="1539.9" y="508.5" width="3" height="25.9" fill="#ee2f45"/><rect x="1535" y="518.4" width="12.8" height="16" fill="#f03448"/><rect x="1554.9" y="499.4" width="3" height="41.8" fill="#0b9179"/><rect x="1550" y="501.4" width="12.8" height="33" fill="#0ea699"/><rect x="1569.9" y="494.6" width="3" height="29.8" fill="#0b9179"/><rect x="1565" y="497.7" width="12.8" height="4.5" fill="#0ea699"/><rect x="1584.9" y="472.9" width="3" height="33.6" fill="#0b9179"/><rect x="1580" y="472.9" width="12.8" height="21.4" fill="#0ea699"/><rect x="1599.9" y="471.7" width="3" height="20.4" fill="#ee2f45"/><rect x="1595" y="471.7" width="12.8" height="20.4" fill="#f03448"/><rect x="1614.9" y="477.7" width="3" height="15.3" fill="#0b9179"/><rect x="1610" y="478.8" width="12.8" height="14.2" fill="#0ea699"/><rect x="1629.9" y="471.7" width="3" height="23.6" fill="#ee2f45"/><rect x="1625" y="478.8" width="12.8" height="16.5" fill="#f03448"/><rect x="1644.9" y="481.5" width="3" height="13.8" fill="#0b9179"/><rect x="1640" y="490.9" width="12.8" height="4.4" fill="#0ea699"/><rect x="1659.9" y="461.7" width="3" height="31.5" fill="#0b9179"/><rect x="1655" y="473.8" width="12.8" height="17.8" fill="#0ea699"/><rect x="1674.9" y="421.7" width="3" height="57.6" fill="#0b9179"/><rect x="1670" y="461" width="12.8" height="17.3" fill="#0ea699"/><rect x="1689.9" y="461" width="3" height="12.5" fill="#ee2f45"/><rect x="1685" y="462" width="12.8" height="2.6" fill="#f03448"/><rect x="1704.9" y="451.7" width="3" height="17.1" fill="#0b9179"/><rect x="1700" y="458.1" width="12.8" height="5.9" fill="#0ea699"/><rect x="1719.9" y="456.9" width="3" height="15.1" fill="#ee2f45"/><rect x="1715" y="457.6" width="12.8" height="9.6" fill="#f03448"/><rect x="1734.9" y="465.6" width="3" height="24.7" fill="#ee2f45"/><rect x="1730" y="466.7" width="12.8" height="22.6" fill="#f03448"/><rect x="1749.9" y="476.8" width="3" height="29.5" fill="#ee2f45"/><rect x="1745" y="489.6" width="12.8" height="14.6" fill="#f03448"/><rect x="1764.9" y="489.6" width="3" height="34.7" fill="#ee2f45"/><rect x="1760" y="504.5" width="12.8" height="5.9" fill="#f03448"/><rect x="1779.9" y="500.6" width="3" height="14.6" fill="#0b9179"/><rect x="1775" y="508.8" width="12.8" height="4.3" fill="#0ea699"/><rect x="1794.9" y="493.9" width="3" height="18.4" fill="#0b9179"/><rect x="1790" y="505.9" width="12.8" height="6.4" fill="#0ea699"/><rect x="1809.9" y="480.5" width="3" height="27.8" fill="#0b9179"/><rect x="1805" y="488.5" width="12.8" height="19.8" fill="#0ea699"/><rect x="1824.9" y="470.7" width="3" height="20.7" fill="#0b9179"/><rect x="1820" y="477.3" width="12.8" height="12" fill="#0ea699"/><rect x="1839.9" y="467.7" width="3" height="38.6" fill="#ee2f45"/><rect x="1835" y="477.5" width="12.8" height="28.8" fill="#f03448"/><rect x="1854.9" y="480.5" width="3" height="34" fill="#0b9179"/><rect x="1850" y="481.6" width="12.8" height="19.4" fill="#0ea699"/><rect x="1869.9" y="474.7" width="3" height="14.6" fill="#ee2f45"/><rect x="1865" y="481.6" width="12.8" height="7.7" fill="#f03448"/><rect x="1884.9" y="472.9" width="3" height="18.3" fill="#0b9179"/><rect x="1880" y="481.9" width="12.8" height="9.3" fill="#0ea699"/><rect x="1899.9" y="478.5" width="3" height="35.9" fill="#ee2f45"/><rect x="1895" y="481.7" width="12.8" height="24.4" fill="#f03448"/><rect x="1914.9" y="491.9" width="3" height="32.4" fill="#0b9179"/><rect x="1910" y="494.7" width="12.8" height="7.7" fill="#0ea699"/><rect x="1929.9" y="470.9" width="3" height="26.4" fill="#0b9179"/><rect x="1925" y="472.9" width="12.8" height="22" fill="#0ea699"/><rect x="1944.9" y="461" width="3" height="26.3" fill="#ee2f45"/><rect x="1940" y="468.8" width="12.8" height="13.5" fill="#f03448"/><rect x="1959.9" y="472.9" width="3" height="14.4" fill="#ee2f45"/><rect x="1955" y="481.6" width="12.8" height="2.5" fill="#f03448"/><rect x="1974.9" y="468.8" width="3" height="17.4" fill="#ee2f45"/><rect x="1970" y="481.6" width="12.8" height="2.7" fill="#f03448"/><rect x="1989.9" y="479.8" width="3" height="15.7" fill="#ee2f45"/><rect x="1985" y="484.3" width="12.8" height="4.8" fill="#f03448"/><rect x="2004.9" y="468.8" width="3" height="28.5" fill="#0b9179"/><rect x="2000" y="473.6" width="12.8" height="15.5" fill="#0ea699"/><rect x="2019.9" y="428.8" width="3" height="48" fill="#0b9179"/><rect x="2015" y="449.1" width="12.8" height="25" fill="#0ea699"/><rect x="2034.9" y="417.1" width="3" height="34.4" fill="#0b9179"/><rect x="2030" y="421.9" width="12.8" height="26.6" fill="#0ea699"/><rect x="2049.9" y="414.9" width="3" height="16.6" fill="#ee2f45"/><rect x="2045" y="421.9" width="12.8" height="3.7" fill="#f03448"/><rect x="2064.9" y="392.2" width="3" height="38.2" fill="#0b9179"/><rect x="2060" y="392.9" width="12.8" height="35.4" fill="#0ea699"/><rect x="2079.9" y="389.2" width="3" height="16" fill="#ee2f45"/><rect x="2075" y="394" width="12.8" height="4.6" fill="#f03448"/><rect x="2094.9" y="374.3" width="3" height="30" fill="#0b9179"/><rect x="2090" y="374.3" width="12.8" height="26.1" fill="#0ea699"/><rect x="2109.9" y="304.1" width="3" height="73.4" fill="#0b9179"/><rect x="2105" y="312.2" width="12.8" height="62.6" fill="#0ea699"/><rect x="2124.9" y="312.9" width="3" height="40.9" fill="#ee2f45"/><rect x="2120" y="315.9" width="12.8" height="32.8" fill="#f03448"/><rect x="2139.9" y="338.1" width="3" height="18.4" fill="#0b9179"/><rect x="2135" y="343.2" width="12.8" height="5.4" fill="#0ea699"/><rect x="2154.9" y="319" width="3" height="56.6" fill="#ee2f45"/><rect x="2150" y="346.2" width="12.8" height="17.2" fill="#f03448"/><rect x="2169.9" y="363.1" width="3" height="35.6" fill="#ee2f45"/><rect x="2165" y="363.1" width="12.8" height="30.5" fill="#f03448"/><rect x="2184.9" y="363.1" width="3" height="39.4" fill="#0b9179"/><rect x="2180" y="388.2" width="12.8" height="4.5" fill="#0ea699"/><rect x="2199.9" y="383.1" width="3" height="39.5" fill="#ee2f45"/><rect x="2195" y="388" width="12.8" height="12.6" fill="#f03448"/><rect x="2214.9" y="353" width="3" height="56.8" fill="#0b9179"/><rect x="2210" y="365" width="12.8" height="35.6" fill="#0ea699"/><rect x="2229.9" y="365" width="3" height="15.8" fill="#ee2f45"/><rect x="2225" y="365" width="12.8" height="4.7" fill="#f03448"/><rect x="2244.9" y="372" width="3" height="20.7" fill="#0b9179"/><rect x="2240" y="385" width="12.8" height="7.7" fill="#0ea699"/><rect x="2259.9" y="376.1" width="3" height="14.7" fill="#0b9179"/><rect x="2255" y="381" width="12.8" height="4.6" fill="#0ea699"/><rect x="2274.9" y="360" width="3" height="21.6" fill="#0b9179"/><rect x="2270" y="368" width="12.8" height="13.6" fill="#0ea699"/></g><rect x="216.3" y="309" width="389" height="89" rx="44.5" fill="#dbdcdf" fill-opacity="0.6"/><rect x="216" y="797" width="422.5" height="90" rx="45" fill="#dbdcdf" fill-opacity="0.6"/><g fill="none" stroke="#0a2a5e" stroke-width="2.6" stroke-linecap="round" stroke-linejoin="round"><polyline points="558,339.5 569.5,350.3 558,361"/><polyline points="593.5,827.5 603.5,838.2 593.5,849"/></g><g opacity="0.25" fill="#374b6b"><path d="M210.3,717.2 L255.5,718 L255.5,724.4 L210.3,725.2 Z"/><path d="M219.9,701.5 L232.6,714.5 M245.3,701.5 L236,711 M219.7,740.7 L232.8,726.5 M245.8,740.7 L232.2,726.5" stroke="#374b6b" stroke-width="6.2" fill="none"/><rect x="228" y="712" width="9" height="16"/><rect x="230.2" y="692.2" width="4.7" height="5.2"/><rect x="230.5" y="743.8" width="5.6" height="5.9"/><text x="273.5" y="718" font-size="33" font-weight="bold" stroke="#374b6b" stroke-width="1.2" textLength="114" lengthAdjust="spacing">STAR</text></g><text x="273" y="747" font-size="27" fill="#2d466e" fill-opacity="0.2" textLength="115.5" lengthAdjust="spacingAndGlyphs">TRADER</text><line x1="2106.2" y1="306.9" x2="2165.6" y2="306.9" stroke="#1a2030" stroke-width="1.8"/><line x1="411" y1="749" x2="470.9" y2="749" stroke="#1a2030" stroke-width="1.8"/><defs><clipPath id="dc"><rect x="2300" y="1040" width="136.2" height="50"/></clipPath></defs><text x="2386.9" y="1075.6" font-size="31.4" fill="#a4afc0" stroke="#fff" stroke-width="0.3" clip-path="url(#dc)" textLength="79" lengthAdjust="spacingAndGlyphs">18/06</text><text x="192.6" y="104" font-size="48.3" font-weight="bold" fill="#031f47" textLength="212.5" lengthAdjust="spacingAndGlyphs">EURUSD</text><text x="562.1" y="104" font-size="48.4" font-weight="bold" fill="#031f47" textLength="155.6" lengthAdjust="spacingAndGlyphs">1.15513</text><text x="743" y="101.6" font-size="41.7" font-weight="normal" fill="#12a79c" textLength="365.1" lengthAdjust="spacingAndGlyphs" stroke="#fff" stroke-width="0.4">+0.00009(+0.01%)</text><text x="1185.8" y="100.7" font-size="37.4" font-weight="normal" fill="#3b4c6a" textLength="132.8" lengthAdjust="spacingAndGlyphs">09:14:19</text><text x="185.1" y="231.1" font-size="36.6" font-weight="normal" fill="#637593" textLength="184.4" lengthAdjust="spacingAndGlyphs">Tick Chart</text><text x="494.3" y="231.1" font-size="36" font-weight="normal" fill="#637593" textLength="53.8" lengthAdjust="spacingAndGlyphs">1m</text><text x="731" y="231.1" font-size="36" font-weight="normal" fill="#637593" textLength="60.3" lengthAdjust="spacingAndGlyphs">5m</text><text x="966" y="231.1" font-size="36" font-weight="normal" fill="#637593" textLength="75.4" lengthAdjust="spacingAndGlyphs">15m</text><text x="1203" y="231.1" font-size="36" font-weight="normal" fill="#637593" textLength="87.3" lengthAdjust="spacingAndGlyphs">30m</text><text x="1438.9" y="231.1" font-size="36" font-weight="normal" fill="#637593" textLength="40.9" lengthAdjust="spacingAndGlyphs">1h</text><text x="1712.6" y="236" font-size="43.4" font-weight="bold" fill="#ffffff" textLength="58.4" lengthAdjust="spacingAndGlyphs" stroke="#3cb7af" stroke-width="1.0">4h</text><text x="1926" y="231.1" font-size="36" font-weight="normal" fill="#637593" textLength="46.3" lengthAdjust="spacingAndGlyphs">1D</text><text x="2162" y="231.1" font-size="36" font-weight="normal" fill="#637593" textLength="56.2" lengthAdjust="spacingAndGlyphs">1W</text><text x="2400" y="231.1" font-size="36" font-weight="normal" fill="#637593" textLength="65.8" lengthAdjust="spacingAndGlyphs">MN</text><text x="249.3" y="367.2" font-size="38.9" font-weight="bold" fill="#3a3a3a" textLength="66" lengthAdjust="spacingAndGlyphs" stroke="#e9eaec" stroke-width="0.6">MA</text><text x="322.9" y="363.6" font-size="29.1" font-weight="normal" fill="#3a3a3a" textLength="112.7" lengthAdjust="spacingAndGlyphs">(5,10,30)</text><text x="249.2" y="856.1" font-size="40.1" font-weight="bold" fill="#3a3a3a" textLength="124.3" lengthAdjust="spacingAndGlyphs" stroke="#e9eaec" stroke-width="0.6">MACD</text><text x="381" y="851.3" font-size="29" font-weight="normal" fill="#3a3a3a" textLength="112.7" lengthAdjust="spacingAndGlyphs">(12,26,9)</text><text x="2453.9" y="336" font-size="31.8" font-weight="normal" fill="#a4afc0" textLength="107.6" lengthAdjust="spacingAndGlyphs" stroke="#fff" stroke-width="0.3">1.16000</text><text x="2453.9" y="424" font-size="31.8" font-weight="normal" fill="#a4afc0" textLength="105.2" lengthAdjust="spacingAndGlyphs" stroke="#fff" stroke-width="0.3">1.15000</text><text x="2452.9" y="513.8" font-size="31.8" font-weight="normal" fill="#a4afc0" textLength="109.8" lengthAdjust="spacingAndGlyphs" stroke="#fff" stroke-width="0.3">1.14000</text><text x="2453.9" y="603.3" font-size="31.8" font-weight="normal" fill="#a4afc0" textLength="105.2" lengthAdjust="spacingAndGlyphs" stroke="#fff" stroke-width="0.3">1.13000</text><text x="2453.9" y="694.3" font-size="31.8" font-weight="normal" fill="#a4afc0" textLength="105.2" lengthAdjust="spacingAndGlyphs" stroke="#fff" stroke-width="0.3">1.12000</text><text x="2455.8" y="915.7" font-size="31.8" font-weight="normal" fill="#a4afc0" textLength="124.2" lengthAdjust="spacingAndGlyphs" stroke="#fff" stroke-width="0.3">0.00000</text><text x="226.3" y="1075.6" font-size="31.4" font-weight="normal" fill="#a4afc0" textLength="76.4" lengthAdjust="spacingAndGlyphs" stroke="#fff" stroke-width="0.3">15/05</text><text x="493.3" y="1075.6" font-size="31.4" font-weight="normal" fill="#a4afc0" textLength="82.8" lengthAdjust="spacingAndGlyphs" stroke="#fff" stroke-width="0.3">20/05</text><text x="763.4" y="1075.6" font-size="31.4" font-weight="normal" fill="#a4afc0" textLength="83.4" lengthAdjust="spacingAndGlyphs" stroke="#fff" stroke-width="0.3">23/05</text><text x="1033.2" y="1075.6" font-size="31.4" font-weight="normal" fill="#a4afc0" textLength="84.6" lengthAdjust="spacingAndGlyphs" stroke="#fff" stroke-width="0.3">28/05</text><text x="1282.5" y="1075.6" font-size="31.4" font-weight="normal" fill="#9aa6b7" textLength="126.7" lengthAdjust="spacingAndGlyphs">06/2025</text><text x="1571.8" y="1075.6" font-size="31.4" font-weight="normal" fill="#a4afc0" textLength="86" lengthAdjust="spacingAndGlyphs" stroke="#fff" stroke-width="0.3">05/06</text><text x="1844.2" y="1075.6" font-size="31.4" font-weight="normal" fill="#a4afc0" textLength="81.1" lengthAdjust="spacingAndGlyphs" stroke="#fff" stroke-width="0.3">10/06</text><text x="2114.8" y="1075.6" font-size="31.4" font-weight="normal" fill="#a4afc0" textLength="79.1" lengthAdjust="spacingAndGlyphs" stroke="#fff" stroke-width="0.3">13/06</text><text x="2164" y="314.9" font-size="31.8" font-weight="normal" fill="#0e1424" textLength="100.1" lengthAdjust="spacingAndGlyphs" stroke="#fff" stroke-width="0.3">1.16238</text><text x="468.3" y="757" font-size="31.8" font-weight="normal" fill="#0e1424" textLength="97.1" lengthAdjust="spacingAndGlyphs" stroke="#fff" stroke-width="0.3">1.11308</text></svg></body></html>
